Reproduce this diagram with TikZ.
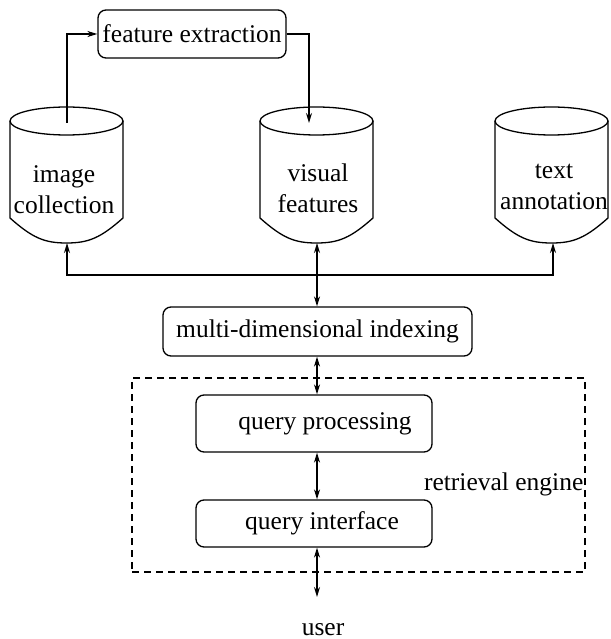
\documentclass[tikz,border=0pt]{standalone}
\usepackage{fontspec}
\setmainfont{Liberation Serif}
\usetikzlibrary{arrows.meta}
\newcommand\cylshape[1]{%
  \draw (#1,121) ellipse [x radius=56.5pt, y radius=14pt];
  \draw (#1-56.5,121) -- (#1-56.5,218) .. controls (#1-34,238) and (#1-22,243) .. (#1,243)
        .. controls (#1+22,243) and (#1+34,238) .. (#1+56.5,218) -- (#1+56.5,121);
}
\begin{document}
\begin{tikzpicture}[x=1pt,y=-1pt, line width=1.3pt,
  txt/.style={font=\fontsize{25.5}{31}\selectfont},
  box/.style={txt, draw, rounded corners=8pt, inner sep=0pt},
  lbl/.style={txt, align=center, inner sep=0pt},
  arr/.style={-{Stealth[length=10pt,width=6pt]}},
  darr/.style={{Stealth[length=10pt,width=6pt]}-{Stealth[length=10pt,width=6pt]}}]
\useasboundingbox (0,0) rectangle (610,639);

% cylinders
\cylshape{66.5}
\cylshape{316.5}
\cylshape{551.5}
\node[lbl] (ic) at (64,190) {image\\collection};
\node[lbl] (vf) at (318,188) {visual\\features};
\node[lbl] (ta) at (554,187) {text\\annotation};

\coordinate (ictop) at (67,123);
\coordinate (icbot) at (67,243);
\coordinate (vftop) at (309,123);
\coordinate (vfbot) at (317,243);
\coordinate (tabot) at (553,243);
\coordinate (busL) at (67,275);
\coordinate (busR) at (553,275);
\coordinate (userarr) at (317,597);

% boxes
\node[box, minimum width=188pt, minimum height=48pt] (fe) at (192,34) {feature extraction};
\node[box, minimum width=309pt, minimum height=49pt] (mdi) at (317.5,331.5) {multi-dimensional indexing};
\node[box, minimum width=236pt, minimum height=57pt] (qp) at (314,423.5) {\hspace*{22pt}query processing};
\node[box, minimum width=236pt, minimum height=47pt] (qi) at (314,523.5) {\hspace*{16pt}query interface};
\node[draw, line width=1.1pt, dash pattern=on 7pt off 5pt, minimum width=453pt, minimum height=194pt, inner sep=0pt] (engine) at (358.5,475) {};
\node[txt, anchor=base east, inner sep=0pt] (re) at (584,490) {retrieval engine};
\node[txt, anchor=base, inner sep=0pt] (user) at (323,635) {user};

% connectors
\draw[arr] (ictop) |- (fe.west);
\draw[arr] (fe.east) -| (vftop);
\draw[darr] (icbot) -- (busL) -- (busR) -- (tabot);
\draw[darr] (vfbot) -- (vfbot |- mdi.north);
\draw[darr] (vfbot |- mdi.south) -- (vfbot |- qp.north);
\draw[darr] (vfbot |- qp.south) -- (vfbot |- qi.north);
\draw[darr] (vfbot |- qi.south) -- (userarr);
\end{tikzpicture}
\end{document}
